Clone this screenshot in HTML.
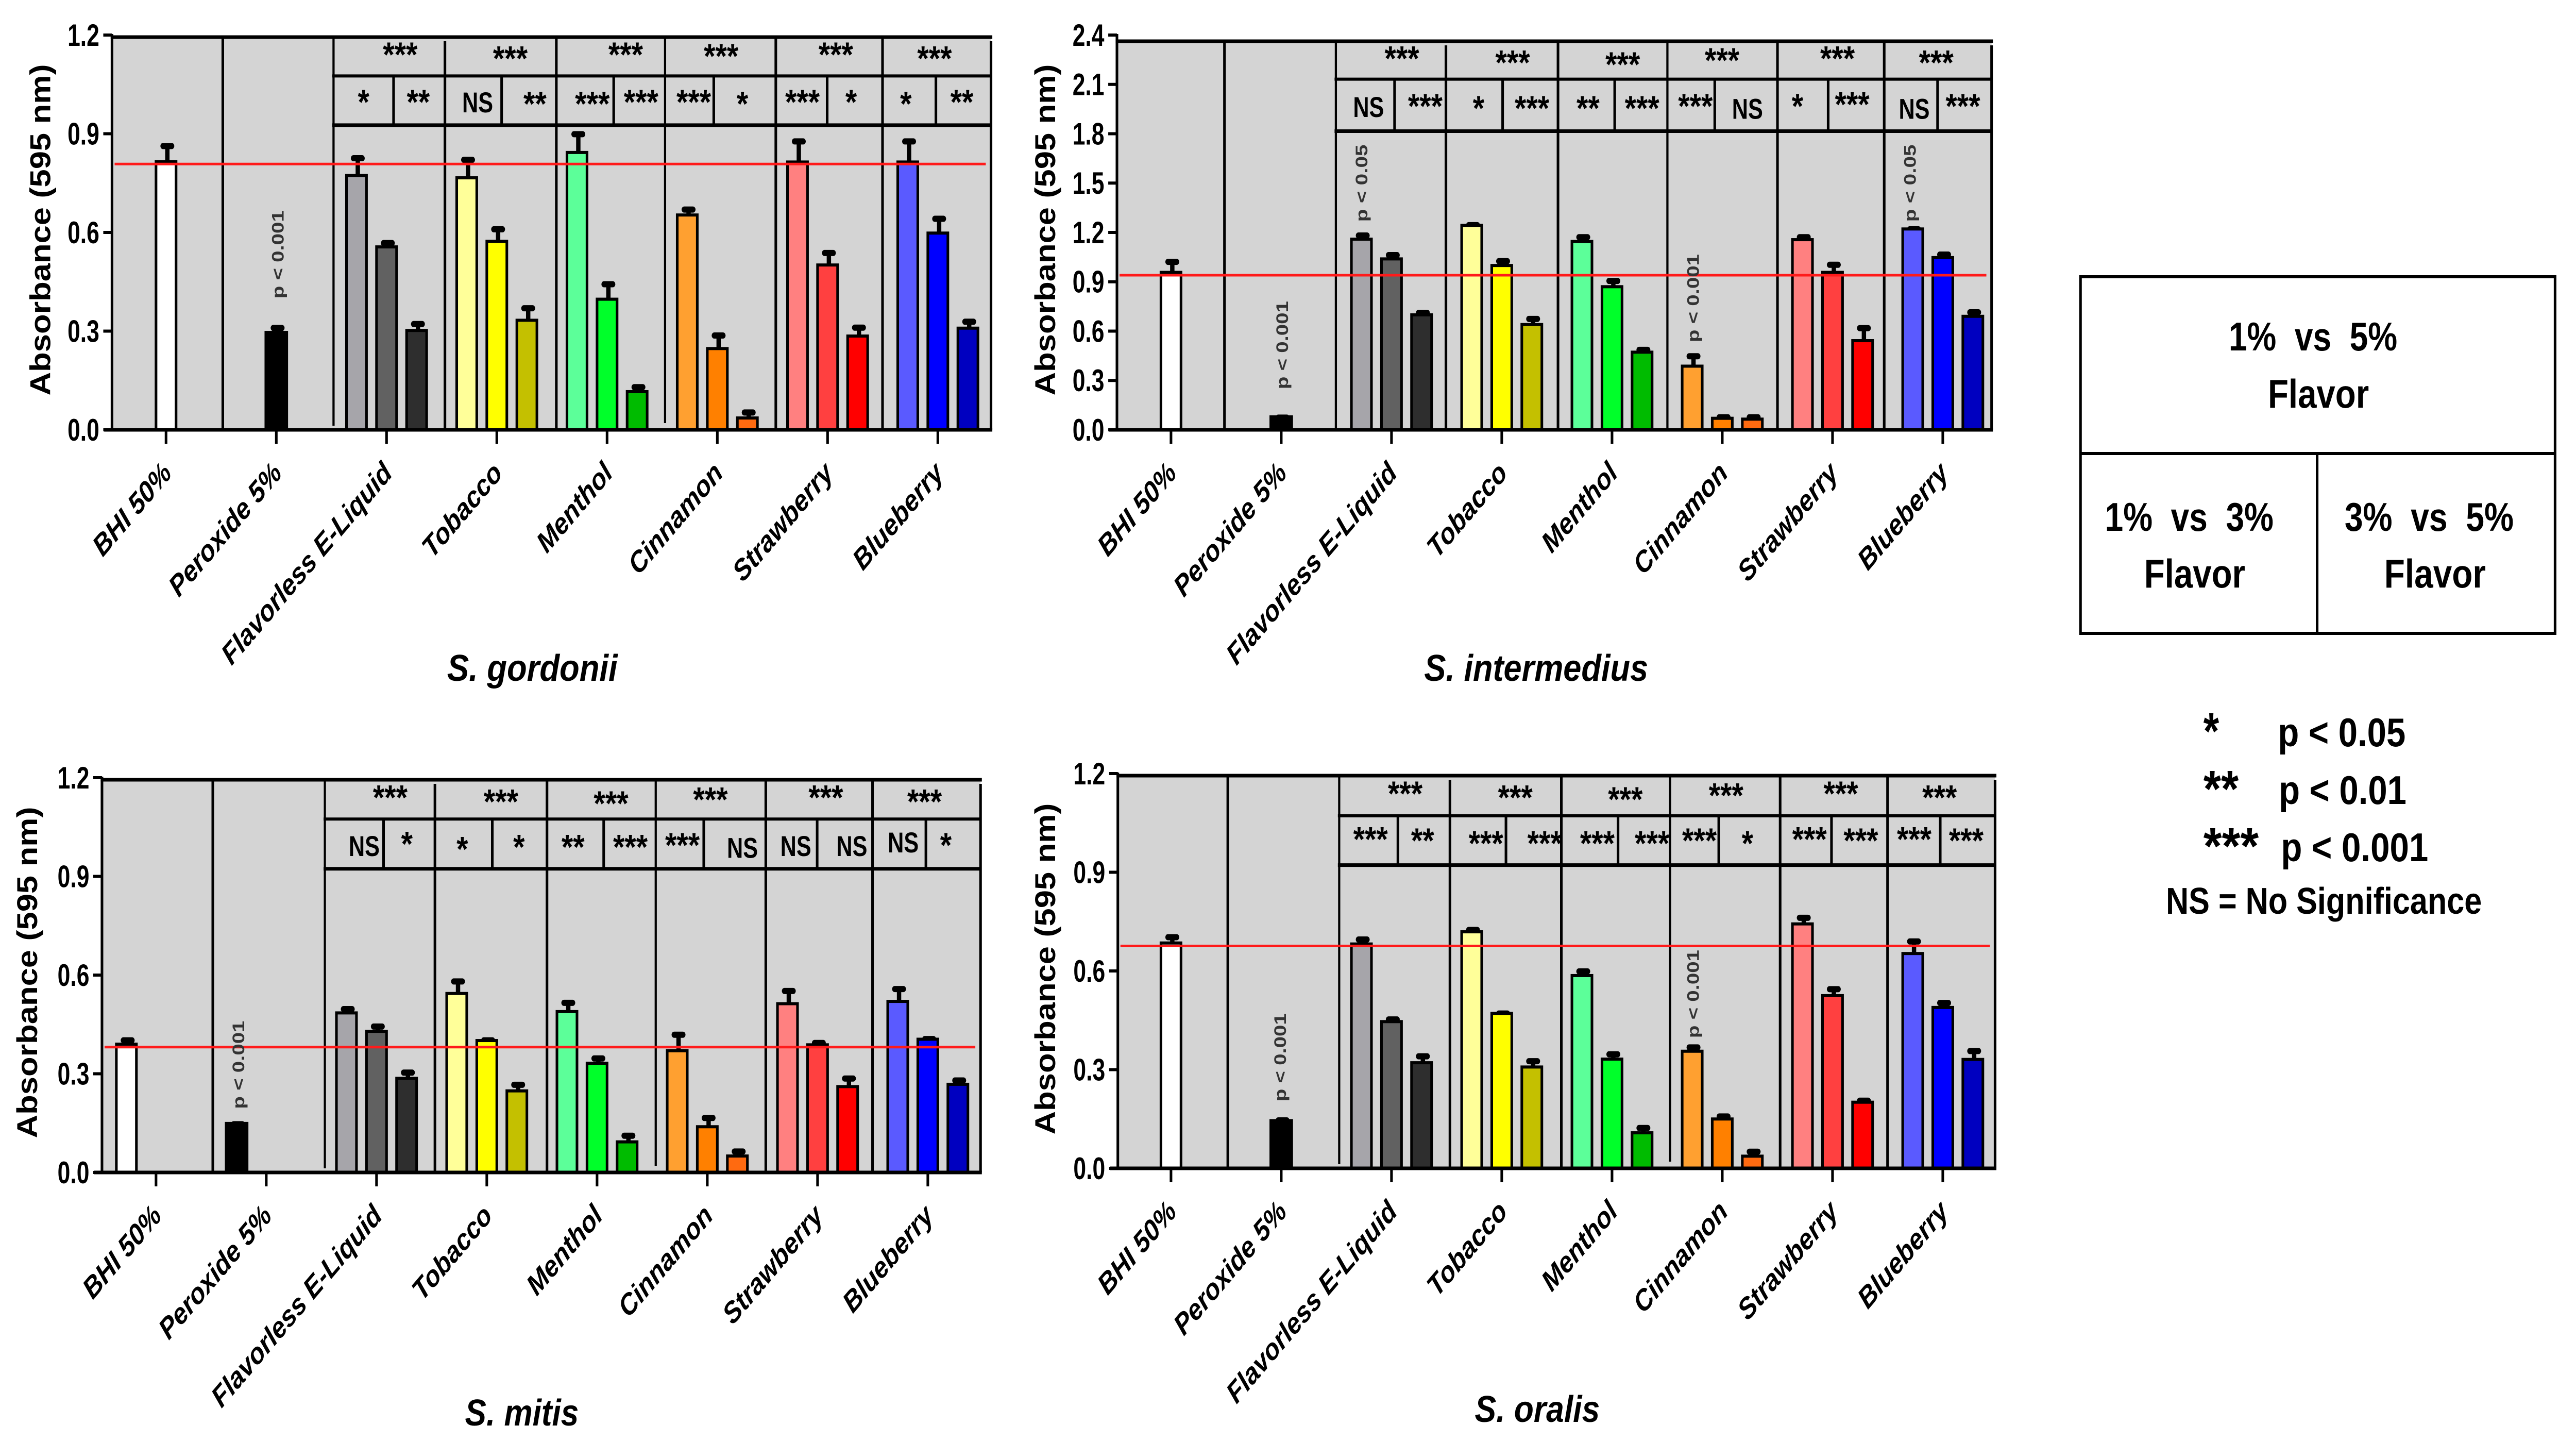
<!DOCTYPE html>
<html lang="en">
<head>
<meta charset="utf-8">
<title>Absorbance of oral streptococci by e-liquid flavor</title>
<style>
html,body{margin:0;padding:0;background:#fff;width:100%;height:100%;overflow:hidden;}
svg{display:block;width:100vw;height:100vh;}
text{font-family:"Liberation Sans",Arial,sans-serif;fill:#000;}
</style>
</head>
<body>
<svg id="figure" xmlns="http://www.w3.org/2000/svg" viewBox="0 0 5911 2798" preserveAspectRatio="none">
  <rect x="0" y="0" width="5911" height="2798" fill="#fff"/>
  <g id="panels"></g>
  <g>
    <rect x="4774" y="537" width="1089" height="692" fill="#fff" stroke="#000" stroke-width="6"/>
    <line x1="4774" y1="880" x2="5863" y2="880" stroke="#000" stroke-width="6"/>
    <line x1="5317" y1="880" x2="5317" y2="1229" stroke="#000" stroke-width="6"/>
    <text x="5114" y="680" font-size="78" font-weight="700" textLength="387" lengthAdjust="spacingAndGlyphs" xml:space="preserve">1%  vs  5%</text>
    <text x="5204" y="791" font-size="78" font-weight="700" textLength="232" lengthAdjust="spacingAndGlyphs">Flavor</text>
    <text x="4830" y="1030" font-size="78" font-weight="700" textLength="387" lengthAdjust="spacingAndGlyphs" xml:space="preserve">1%  vs  3%</text>
    <text x="4920" y="1140" font-size="78" font-weight="700" textLength="232" lengthAdjust="spacingAndGlyphs">Flavor</text>
    <text x="5380" y="1030" font-size="78" font-weight="700" textLength="388" lengthAdjust="spacingAndGlyphs" xml:space="preserve">3%  vs  5%</text>
    <text x="5471" y="1140" font-size="78" font-weight="700" textLength="233" lengthAdjust="spacingAndGlyphs">Flavor</text>
  </g>
  <g>
    <text x="5056" y="1453" font-size="100" font-weight="700" textLength="36" lengthAdjust="spacingAndGlyphs">*</text>
    <text x="5227" y="1448" font-size="78" font-weight="700" textLength="293" lengthAdjust="spacingAndGlyphs">p &lt; 0.05</text>
    <text x="5056" y="1565" font-size="100" font-weight="700" textLength="81" lengthAdjust="spacingAndGlyphs">**</text>
    <text x="5229" y="1560" font-size="78" font-weight="700" textLength="293" lengthAdjust="spacingAndGlyphs">p &lt; 0.01</text>
    <text x="5056" y="1676" font-size="100" font-weight="700" textLength="127" lengthAdjust="spacingAndGlyphs">***</text>
    <text x="5234" y="1671" font-size="78" font-weight="700" textLength="338" lengthAdjust="spacingAndGlyphs">p &lt; 0.001</text>
    <text x="4970" y="1773" font-size="72" font-weight="700" textLength="725" lengthAdjust="spacingAndGlyphs">NS = No Significance</text>
  </g>
</svg>
<script>
const categories = ['BHI 50%', 'Peroxide 5%', 'Flavorless E-Liquid', 'Tobacco', 'Menthol', 'Cinnamon', 'Strawberry', 'Blueberry'];
const yTicksLow = [0, 0.3, 0.6, 0.9, 1.2];
const yTickLabelsLow = ['0.0', '0.3', '0.6', '0.9', '1.2'];
const yTicksHigh = [0, 0.3, 0.6, 0.9, 1.2, 1.5, 1.8, 2.1, 2.4];
const yTickLabelsHigh = ['0.0', '0.3', '0.6', '0.9', '1.2', '1.5', '1.8', '2.1', '2.4'];

const barFills = ['#ffffff', '#000000',
  '#a6a5aa', '#616161', '#2e2e2e',
  '#ffff99', '#ffff00', '#c4c000',
  '#5cff99', '#00ff2a', '#00bb00',
  '#ffa030', '#ff8000', '#ff6a10',
  '#ff8080', '#ff4040', '#ff0000',
  '#5a5aff', '#0000ff', '#0000c0'];

const gordoniiMeans = [0.815, 0.296,
  0.773, 0.556, 0.302,
  0.766, 0.573, 0.333,
  0.843, 0.397, 0.116,
  0.653, 0.247, 0.036,
  0.814, 0.501, 0.285,
  0.814, 0.598, 0.309];
const gordoniiUpper = [0.872, 0.319,
  0.835, 0.577, 0.331,
  0.830, 0.619, 0.379,
  0.908, 0.452, 0.139,
  0.679, 0.296, 0.062,
  0.886, 0.547, 0.320,
  0.886, 0.651, 0.338];
const gordoniiControl = 0.808;

const intermediusMeans = [0.957, 0.079,
  1.159, 1.039, 0.699,
  1.243, 0.999, 0.640,
  1.145, 0.870, 0.472,
  0.387, 0.070, 0.065,
  1.156, 0.957, 0.542,
  1.221, 1.047, 0.690];
const intermediusUpper = [1.040, 0.093,
  1.200, 1.081, 0.730,
  1.263, 1.044, 0.693,
  1.190, 0.924, 0.505,
  0.466, 0.095, 0.095,
  1.190, 1.022, 0.637,
  1.238, 1.084, 0.733];
const intermediusControl = 0.94;

const mitisMeans = [0.390, 0.149,
  0.485, 0.429, 0.286,
  0.544, 0.401, 0.248,
  0.489, 0.332, 0.093,
  0.370, 0.139, 0.050,
  0.513, 0.388, 0.261,
  0.520, 0.405, 0.268];
const mitisUpper = [0.411, 0.156,
  0.506, 0.453, 0.313,
  0.590, 0.411, 0.276,
  0.525, 0.356, 0.121,
  0.428, 0.175, 0.073,
  0.561, 0.403, 0.295,
  0.567, 0.415, 0.289];
const mitisControl = 0.381;

const oralisMeans = [0.685, 0.145,
  0.682, 0.446, 0.321,
  0.719, 0.471, 0.308,
  0.586, 0.332, 0.108,
  0.356, 0.150, 0.037,
  0.743, 0.525, 0.201,
  0.653, 0.489, 0.331];
const oralisUpper = [0.712, 0.155,
  0.705, 0.462, 0.350,
  0.734, 0.480, 0.335,
  0.608, 0.356, 0.132,
  0.377, 0.167, 0.060,
  0.771, 0.554, 0.215,
  0.699, 0.512, 0.366];
const oralisControl = 0.676;

const SVGNS = 'http://www.w3.org/2000/svg';
const root = document.getElementById('panels');

function make(parent, tag, attrs, text) {
  const el = document.createElementNS(SVGNS, tag);
  for (const k in attrs) el.setAttribute(k, attrs[k]);
  if (text !== undefined) el.textContent = text;
  parent.appendChild(el);
  return el;
}

function rule(parent, name, x1, y1, x2, y2, w) {
  const el = make(parent, 'line', {x1: x1, y1: y1, x2: x2, y2: y2, stroke: '#000', 'stroke-width': w});
  
  
  return el;
}

function drawPanel(cfg) {
  const g = make(root, 'g', {});
  
  

  const yScale = v => cfg.y0 - (v / cfg.yMax) * (cfg.y0 - cfg.yTop);
  const xScale = i => cfg.x0 + i * 253;
  cfg.zx = d => cfg.ox + d / 0.6533;
  cfg.zy = d => cfg.oy + d / 1.12;

  const bg = make(g, 'rect', {x: cfg.axisX, y: cfg.frameTop, width: cfg.right - cfg.axisX, height: cfg.y0 - cfg.frameTop, fill: '#d4d4d4'});
  
  

  rule(g, 'frame-top-line', cfg.axisX - 3, cfg.frameTop, cfg.right + 3, cfg.frameTop, 7);
  rule(g, 'frame-right-line', cfg.right, cfg.frameTop + 8, cfg.right, cfg.y0, 6);

  cfg.seps.forEach((d, i) => {
    const x = cfg.zx(d);
    const start = i === 2 ? cfg.frameTop + 8 : cfg.frameTop;
    const end = cfg.shortSeps && (i === 1 || i === 4) ? cfg.y0 - (i === 1 ? 8 : 13) : cfg.y0;
    rule(g, 'group-separator', x, start, x, end, i === 1 || i === 4 ? 5 : 6);
  });

  const tableLeft = cfg.zx(cfg.seps[1]) - 3;
  rule(g, 'comparison-row-line-upper', tableLeft, cfg.zy(cfg.hLines[0]), cfg.right, cfg.zy(cfg.hLines[0]), 6);
  rule(g, 'comparison-row-line-lower', tableLeft, cfg.zy(cfg.hLines[1]), cfg.right, cfg.zy(cfg.hLines[1]), 7);
  cfg.rowDivs.forEach(d => {
    rule(g, 'comparison-cell-divider', cfg.zx(d), cfg.zy(cfg.hLines[0]), cfg.zx(d), cfg.zy(cfg.hLines[1]), 6);
  });

  cfg.means.forEach((v, i) => {
    const group = i < 2 ? i : 2 + Math.floor((i - 2) / 3);
    const shift = i < 2 ? cfg.singleShift : ((i - 2) % 3 - 1) * 69;
    const cx = xScale(group) + shift;
    const top = yScale(v);
    const upper = yScale(cfg.upper[i]);
    const w = i === 1 ? 48 : 46;

    const stem = make(g, 'rect', {x: cx + 3 - 5, y: upper + 4, width: 10, height: Math.max(top - upper, 2), fill: '#000'});
    
    

    const cap = make(g, 'rect', {x: cx + 3 - 16, y: upper, width: 32, height: 12, rx: 6, ry: 6, fill: '#000'});
    
    

    const bar = make(g, 'rect', {x: cx - w / 2, y: top, width: w, height: cfg.y0 - top, fill: barFills[i], stroke: '#000', 'stroke-width': 6});
    
    
  });

  const red = make(g, 'line', {x1: cfg.axisX + 6, y1: yScale(cfg.control), x2: cfg.right - 12, y2: yScale(cfg.control), stroke: '#ff1a1a', 'stroke-width': 5});
  
  

  rule(g, 'y-axis-line', cfg.axisX, cfg.yTop - 2, cfg.axisX, cfg.y0 + 3, 6);
  rule(g, 'x-axis-line', cfg.axisX - 18, cfg.y0, cfg.right + 3, cfg.y0, 7);

  cfg.ticks.forEach((t, i) => {
    const y = yScale(t);
    rule(g, 'y-tick', cfg.axisX - 20, y, cfg.axisX, y, 6);
    const lab = make(g, 'text', {x: cfg.axisX - 29, y: y + 21, 'text-anchor': 'end', 'font-size': 60, 'font-weight': 700, textLength: 73, lengthAdjust: 'spacingAndGlyphs'}, cfg.tickLabels[i]);
    
    
  });

  categories.forEach((c, i) => {
    const x = xScale(i);
    rule(g, 'x-tick', x, cfg.y0, x, cfg.y0 + 27, 6);
    const lx = x + 16, ly = cfg.y0 + 87;
    const lab = make(g, 'text', {x: lx, y: ly, 'text-anchor': 'end', 'font-size': 57, 'font-weight': 700, 'font-style': 'italic', transform: 'rotate(-45 ' + lx + ' ' + ly + ')'}, c);
    
    
  });

  const ty = make(g, 'text', {x: cfg.titleX, y: cfg.titleY, 'text-anchor': 'middle', 'font-size': 66, 'font-weight': 700, textLength: 643, lengthAdjust: 'spacingAndGlyphs', transform: 'rotate(-90 ' + cfg.titleX + ' ' + cfg.titleY + ')'}, 'Absorbance (595 nm)');
  
  

  const name = make(g, 'text', {x: cfg.nameX, y: cfg.nameY, 'font-size': 72, 'font-weight': 700, 'font-style': 'italic', textLength: cfg.nameW, lengthAdjust: 'spacingAndGlyphs'}, cfg.name);
  
  

  return g;
}

function note(cfg, g, label, dx, dy) {
  const x = cfg.zx(dx), y = cfg.zy(dy);
  if (label === 'NS') {
    const ns = make(g, 'text', {x: x, y: y + 20, 'text-anchor': 'middle', 'font-size': 56, 'font-weight': 700, textLength: 71, lengthAdjust: 'spacingAndGlyphs'}, label);
    
    
  } else {
    const star = make(g, 'text', {x: x, y: y + 31, 'text-anchor': 'middle', 'font-size': 68, 'font-weight': 700}, label);
    
    
  }
}

function pLabel(cfg, g, label, dx, dy, len) {
  const x = cfg.zx(dx) + 11, y = cfg.zy(dy);
  const t = make(g, 'text', {x: x, y: y, 'text-anchor': 'middle', 'font-size': 38, 'font-weight': 700, textLength: len, lengthAdjust: 'spacingAndGlyphs', transform: 'rotate(-90 ' + x + ' ' + y + ')'}, label);
  t.style.fill = '#333';
  
  
}

/* S. gordonii */
const cfgA = {slug: 's-gordonii', name: 'S. gordonii', ox: 0, oy: 0, x0: 381, singleShift: 0, axisX: 257, right: 2274, frameTop: 72, yTop: 68, y0: 834, yMax: 1.2, ticks: yTicksLow, tickLabels: yTickLabelsLow, means: gordoniiMeans, upper: gordoniiUpper, control: gordoniiControl, seps: [334, 500, 667, 834, 997, 1163, 1323], hLines: [165, 272], rowDivs: [590, 752, 920, 1070, 1240, 1403], shortSeps: true, titleX: 115, titleY: 446, nameX: 1026, nameY: 1321, nameW: 391};
const gA = drawPanel(cfgA);
note(cfgA, gA, '***', 600, 110);
note(cfgA, gA, '***', 765, 118);
note(cfgA, gA, '***', 938, 110);
note(cfgA, gA, '***', 1081, 113);
note(cfgA, gA, '***', 1253, 110);
note(cfgA, gA, '***', 1401, 118);
note(cfgA, gA, '*', 545, 213);
note(cfgA, gA, '**', 627, 213);
note(cfgA, gA, 'NS', 716, 222);
note(cfgA, gA, '**', 802, 217);
note(cfgA, gA, '***', 888, 217);
note(cfgA, gA, '***', 961, 213);
note(cfgA, gA, '***', 1040, 213);
note(cfgA, gA, '*', 1113, 217);
note(cfgA, gA, '***', 1203, 213);
note(cfgA, gA, '*', 1276, 213);
note(cfgA, gA, '*', 1358, 217);
note(cfgA, gA, '**', 1442, 213);
pLabel(cfgA, gA, 'p < 0.001', 418, 553, 171);

/* S. intermedius */
const cfgB = {slug: 's-intermedius', name: 'S. intermedius', ox: 2300, oy: 0, x0: 2687, singleShift: 0, axisX: 2563, right: 4570, frameTop: 80, yTop: 68, y0: 834, yMax: 2.4, ticks: yTicksHigh, tickLabels: yTickLabelsHigh, means: intermediusMeans, upper: intermediusUpper, control: intermediusControl, seps: [333, 500, 665, 833, 997, 1162, 1322], hLines: [172, 285], rowDivs: [588, 750, 918, 1068, 1238, 1402], shortSeps: false, titleX: 2421, titleY: 446, nameX: 3268, nameY: 1321, nameW: 514};
const gB = drawPanel(cfgB);
note(cfgB, gB, '***', 599, 118);
note(cfgB, gB, '***', 765, 127);
note(cfgB, gB, '***', 930, 131);
note(cfgB, gB, '***', 1079, 122);
note(cfgB, gB, '***', 1252, 118);
note(cfgB, gB, '***', 1400, 127);
note(cfgB, gB, 'NS', 549, 232);
note(cfgB, gB, '***', 634, 222);
note(cfgB, gB, '*', 714, 226);
note(cfgB, gB, '***', 794, 226);
note(cfgB, gB, '**', 878, 226);
note(cfgB, gB, '***', 959, 226);
note(cfgB, gB, '***', 1039, 222);
note(cfgB, gB, 'NS', 1117, 236);
note(cfgB, gB, '*', 1192, 222);
note(cfgB, gB, '***', 1274, 218);
note(cfgB, gB, 'NS', 1367, 236);
note(cfgB, gB, '***', 1440, 222);
pLabel(cfgB, gB, 'p < 0.001', 421, 750, 171);
pLabel(cfgB, gB, 'p < 0.05', 540, 398, 150);
pLabel(cfgB, gB, 'p < 0.05', 1362, 398, 150);
pLabel(cfgB, gB, 'p < 0.001', 1037, 648, 171);

/* S. mitis */
const cfgC = {slug: 's-mitis', name: 'S. mitis', ox: 0, oy: 1400, x0: 358, singleShift: -68, axisX: 234, right: 2250, frameTop: 1513, yTop: 1509, y0: 2275, yMax: 1.2, ticks: yTicksLow, tickLabels: yTickLabelsLow, means: mitisMeans, upper: mitisUpper, control: mitisControl, seps: [319, 487, 652, 820, 983, 1148, 1308], hLines: [212, 320], rowDivs: [575, 738, 905, 1055, 1225, 1388], shortSeps: true, titleX: 85, titleY: 1887, nameX: 1067, nameY: 2766, nameW: 261};
const gC = drawPanel(cfgC);
note(cfgC, gC, '***', 585, 156);
note(cfgC, gC, '***', 751, 165);
note(cfgC, gC, '***', 916, 169);
note(cfgC, gC, '***', 1065, 161);
note(cfgC, gC, '***', 1238, 156);
note(cfgC, gC, '***', 1386, 165);
note(cfgC, gC, 'NS', 546, 270);
note(cfgC, gC, '*', 610, 257);
note(cfgC, gC, '*', 693, 268);
note(cfgC, gC, '*', 778, 264);
note(cfgC, gC, '**', 859, 264);
note(cfgC, gC, '***', 945, 264);
note(cfgC, gC, '***', 1023, 260);
note(cfgC, gC, 'NS', 1113, 274);
note(cfgC, gC, 'NS', 1193, 270);
note(cfgC, gC, 'NS', 1277, 270);
note(cfgC, gC, 'NS', 1354, 262);
note(cfgC, gC, '*', 1418, 260);
pLabel(cfgC, gC, 'p < 0.001', 359, 746, 171);

/* S. oralis */
const cfgD = {slug: 's-oralis', name: 'S. oralis', ox: 2300, oy: 1400, x0: 2687, singleShift: 0, axisX: 2565, right: 4578, frameTop: 1505, yTop: 1501, y0: 2267, yMax: 1.2, ticks: yTicksLow, tickLabels: yTickLabelsLow, means: oralisMeans, upper: oralisUpper, control: oralisControl, seps: [338, 505, 671, 838, 1001, 1166, 1327], hLines: [205, 312], rowDivs: [593, 755, 923, 1074, 1243, 1406], shortSeps: true, titleX: 2421, titleY: 1880, nameX: 3384, nameY: 2759, nameW: 287};
const gD = drawPanel(cfgD);
note(cfgD, gD, '***', 604, 148);
note(cfgD, gD, '***', 769, 156);
note(cfgD, gD, '***', 934, 160);
note(cfgD, gD, '***', 1085, 152);
note(cfgD, gD, '***', 1257, 148);
note(cfgD, gD, '***', 1405, 156);
note(cfgD, gD, '***', 552, 247);
note(cfgD, gD, '**', 630, 250);
note(cfgD, gD, '***', 725, 256);
note(cfgD, gD, '***', 813, 256);
note(cfgD, gD, '***', 892, 256);
note(cfgD, gD, '***', 974, 256);
note(cfgD, gD, '***', 1045, 250);
note(cfgD, gD, '*', 1117, 256);
note(cfgD, gD, '***', 1210, 247);
note(cfgD, gD, '***', 1287, 250);
note(cfgD, gD, '***', 1367, 247);
note(cfgD, gD, '***', 1445, 250);
pLabel(cfgD, gD, 'p < 0.001', 418, 730, 171);
pLabel(cfgD, gD, 'p < 0.001', 1037, 592, 171);
</script>
</body>
</html>
